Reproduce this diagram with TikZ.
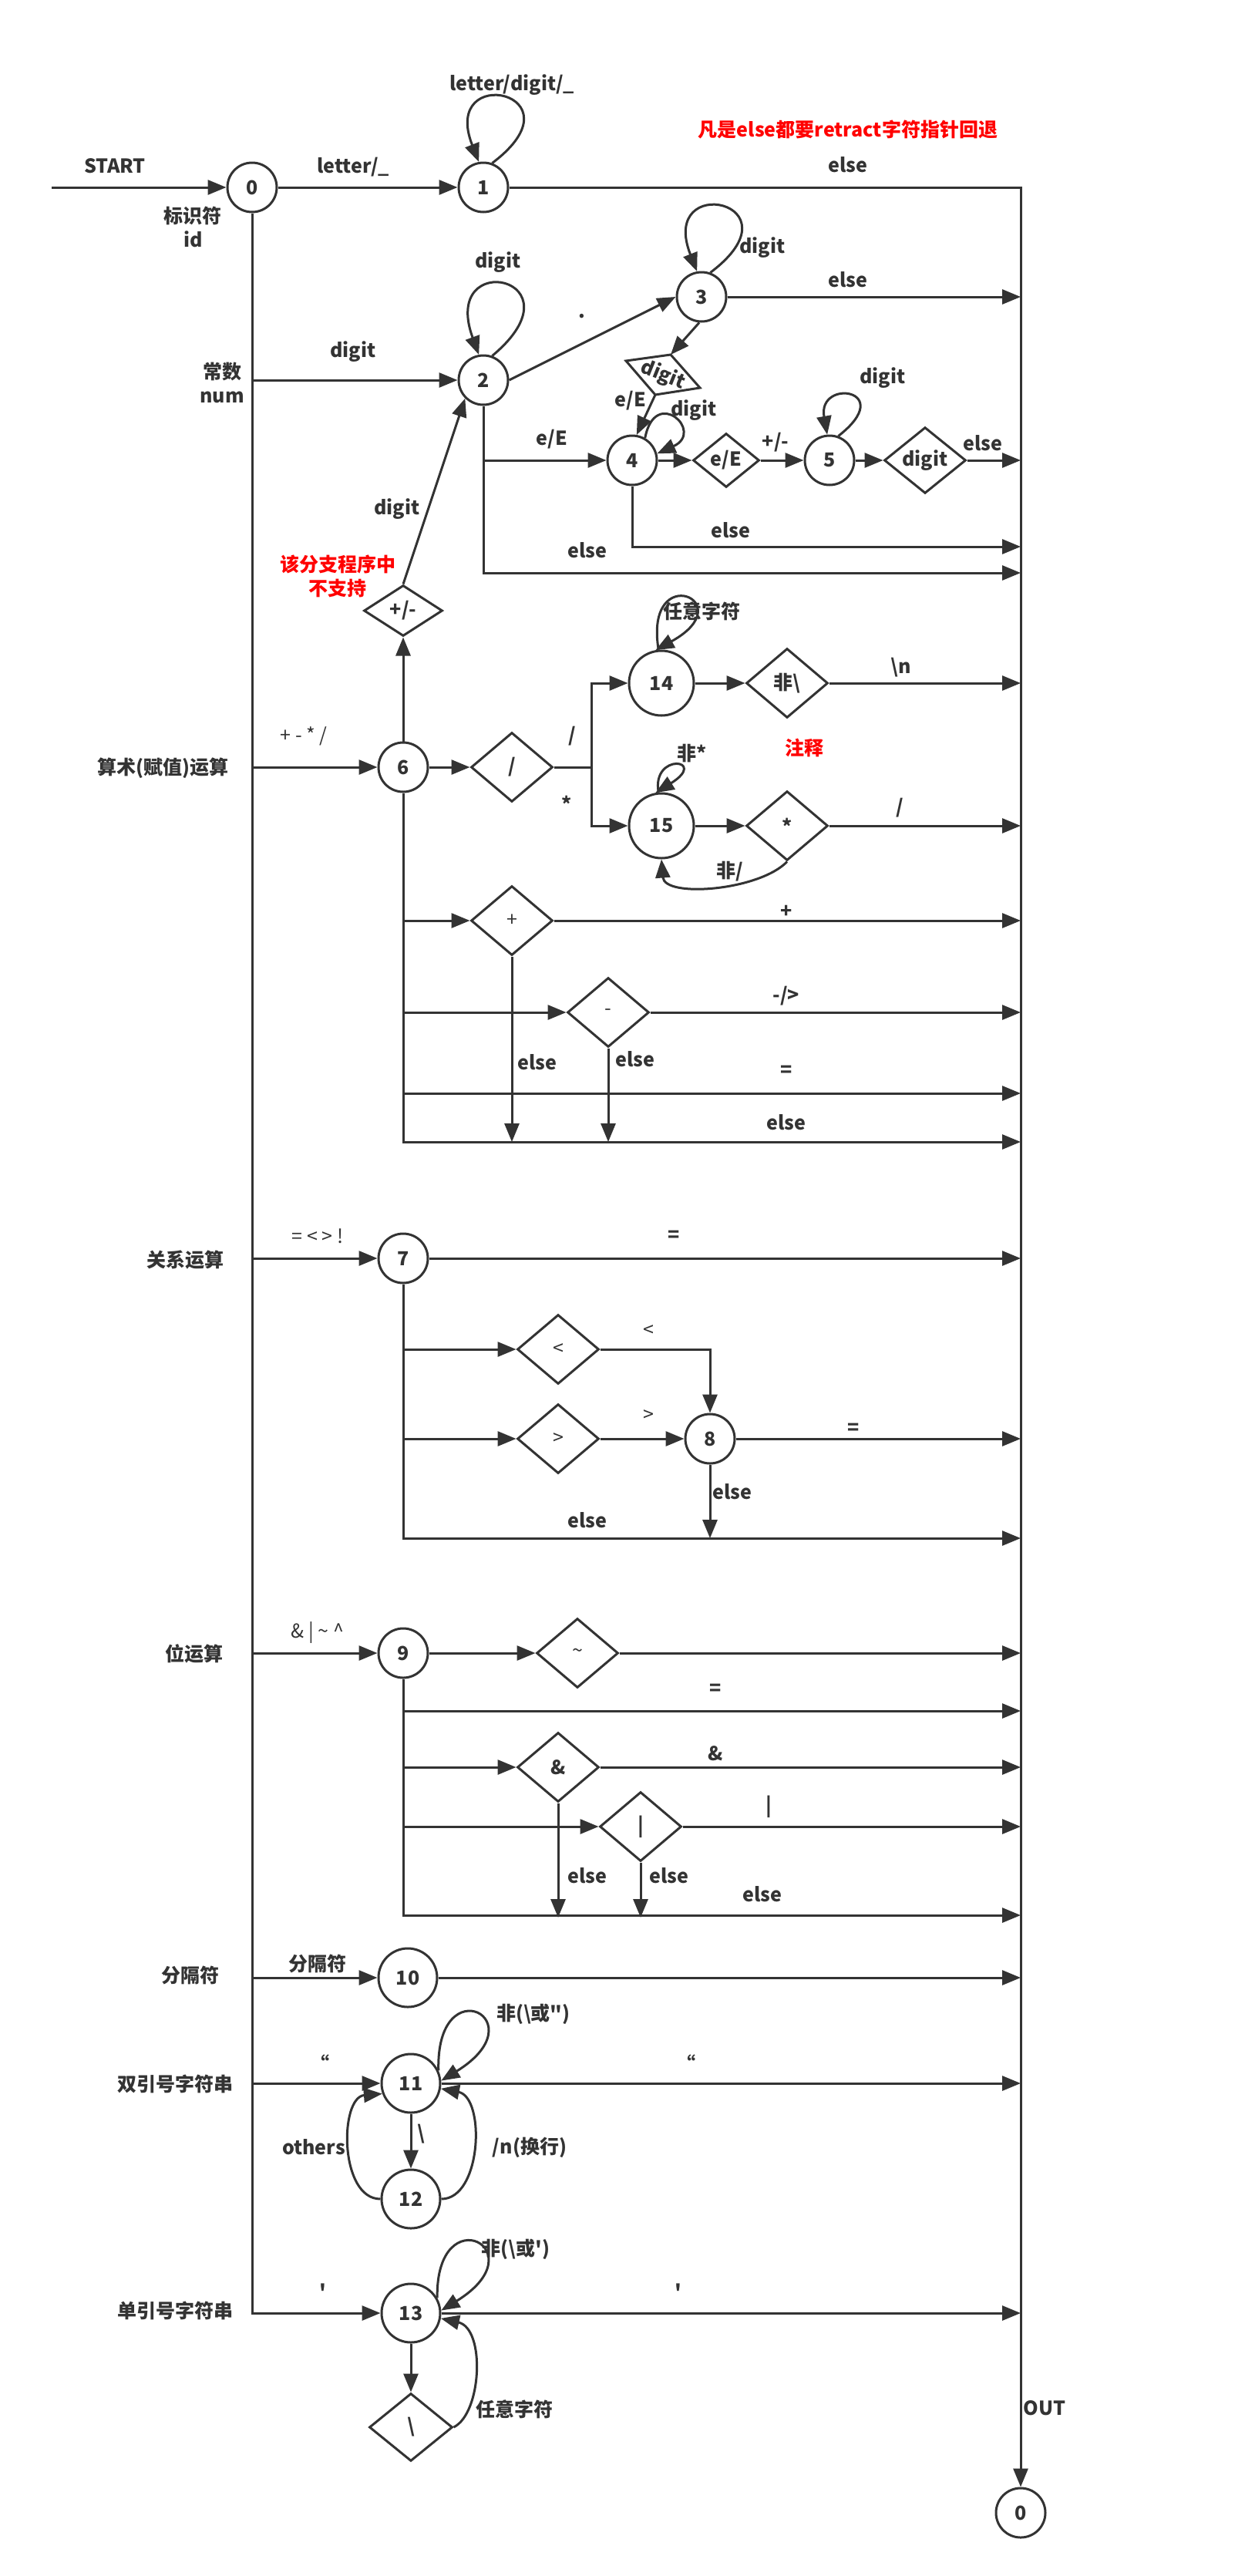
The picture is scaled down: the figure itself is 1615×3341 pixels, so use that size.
\documentclass[tikz,border=0pt]{standalone}
\usepackage{fontspec}
\setmainfont{Noto Sans CJK SC}
\usetikzlibrary{arrows.meta,shapes.geometric}
\definecolor{dc}{HTML}{333333}
\definecolor{rc}{HTML}{FF0000}
\newcommand\myfb{\fontsize{12.5pt}{15pt}\selectfont\bfseries}
\newcommand\myfr{\fontsize{12.5pt}{15pt}\selectfont}
\begin{document}
\begin{tikzpicture}[x=0.5pt,y=-0.5pt,
  st/.style={circle,draw=dc,line width=1.5pt,minimum size=32pt,inner sep=0pt,font=\myfb,text=dc},
  stl/.style={st,minimum size=42pt},
  stm/.style={st,minimum size=38pt},
  dia/.style={diamond,draw=dc,line width=1.5pt,minimum width=53pt,minimum height=45pt,inner sep=0pt,font=\myfb,text=dc},
  ln/.style={draw=dc,line width=1.5pt},
  arr/.style={ln,-{Triangle[length=12pt,width=9.5pt]}},
  lab/.style={font=\myfb,text=dc,inner sep=0pt},
  labr/.style={font=\myfr,text=dc,inner sep=0pt},
  redlab/.style={font=\myfb,text=rc,inner sep=0pt,align=center}]
\useasboundingbox (0,0) rectangle (1615,3341);
\fill[white] (0,0) rectangle (1615,3341);

% ---------- states ----------
\node[st] (n0) at (327,243) {0};
\node[st] (n1) at (627,243) {1};
\node[st] (n2) at (627,493) {2};
\node[st] (n3) at (910,385) {3};
\node[st] (n4) at (820,597) {4};
\node[st] (n5) at (1076,597) {5};
\node[dia,minimum width=43pt,minimum height=35pt] (dE) at (942,597) {e/E};
\node[dia,minimum width=53pt,minimum height=42pt] (dD) at (1200,597) {digit};
\node[st] (n6) at (523,995) {6};
\node[dia,minimum width=51pt,minimum height=33pt] (dpm) at (523,792) {+/-};
\node[dia] (dsl) at (664,995) {/};
\node[stl] (n14) at (858,886) {14};
\node[stl] (n15) at (858,1071) {15};
\node[dia] (dn) at (1021,886) {非\textbackslash};
\node[dia] (ds) at (1021,1071) {*};
\node[dia,font=\myfr] (dplus) at (664,1194) {+};
\node[dia,font=\myfr] (dminus) at (789,1313) {-};
\node[st] (n7) at (523,1632) {7};
\node[dia,font=\myfr] (dlt) at (724,1750) {<};
\node[dia,font=\myfr] (dgt) at (724,1866) {>};
\node[st] (n8) at (921,1866) {8};
\node[st] (n9) at (523,2144) {9};
\node[dia,font=\myfr] (dti) at (749,2144) {\textasciitilde};
\node[dia] (damp) at (724,2292) {\&};
\node[dia] (dbar) at (831,2369) {|};
\node[stm] (n10) at (529,2565) {10};
\node[stm] (n11) at (533,2702) {11};
\node[stm] (n12) at (533,2852) {12};
\node[stm] (n13) at (533,3000) {13};
\node[dia,minimum width=54pt,minimum height=44pt] (dbs) at (533,3148) {\textbackslash};
\node[st] (nout) at (1324,3259) {0};

% tilted box "digit"
\coordinate (bL) at (812,468);
\coordinate (bT) at (870,460);
\coordinate (bR) at (908,503);
\coordinate (bB) at (850,512);
\draw[ln] (bL) -- (bT) -- (bR) -- (bB) -- cycle;
\node[lab,rotate=-22] (bx) at (860,487) {digit};

% ---------- coordinates ----------
\coordinate (lS) at (67,243);
\coordinate (lN) at (327,493);
\coordinate (l6) at (327,995);
\coordinate (l7) at (327,1632);
\coordinate (l9) at (327,2144);
\coordinate (l10) at (327,2565);
\coordinate (l11) at (327,2702);
\coordinate (l13) at (327,3000);
\coordinate (rT) at (1324,243);
\coordinate (r3) at (1324,385);
\coordinate (rD) at (1324,597);
\coordinate (r4) at (1324,709);
\coordinate (r2) at (1324,743);
\coordinate (r14) at (1324,886);
\coordinate (r15) at (1324,1071);
\coordinate (rp) at (1324,1194);
\coordinate (rm) at (1324,1313);
\coordinate (rq6) at (1324,1418);
\coordinate (re6) at (1324,1481);
\coordinate (r7) at (1324,1632);
\coordinate (r8) at (1324,1866);
\coordinate (re7) at (1324,1995);
\coordinate (r9) at (1324,2144);
\coordinate (rq9) at (1324,2219);
\coordinate (ramp) at (1324,2292);
\coordinate (rbar) at (1324,2369);
\coordinate (re9) at (1324,2484);
\coordinate (r10) at (1324,2565);
\coordinate (r11) at (1324,2702);
\coordinate (r13) at (1324,3000);
\coordinate (c2a) at (627,597);
\coordinate (c2b) at (627,743);
\coordinate (c4b) at (820,709);
\coordinate (c6p) at (523,1194);
\coordinate (c6m) at (523,1313);
\coordinate (c6q) at (523,1418);
\coordinate (c6e) at (523,1481);
\coordinate (cpd) at (664,1481);
\coordinate (cmd) at (789,1481);
\coordinate (cs1) at (767,995);
\coordinate (cs14) at (767,886);
\coordinate (cs15) at (767,1071);
\coordinate (c7a) at (523,1750);
\coordinate (c7b) at (523,1866);
\coordinate (c7e) at (523,1995);
\coordinate (c8t) at (921,1750);
\coordinate (c8e) at (921,1995);
\coordinate (c9q) at (523,2219);
\coordinate (c9a) at (523,2292);
\coordinate (c9b) at (523,2369);
\coordinate (c9e) at (523,2484);
\coordinate (cad) at (724,2487);
\coordinate (cbd) at (831,2487);

% ---------- main trunks ----------
\draw[arr] (lS) -- (n0);
\draw[arr] (n0) -- (n1);
\draw[arr] (n0) -- (l13) -- (n13);
\draw[arr] (n1) -- (rT) -- (nout);

% identifier
\draw[arr] (n1.70) .. controls (760,120) and (570,80) .. (n1.100);

% numbers
\draw[arr] (lN) -- (n2);
\draw[arr] (n2.70) .. controls (760,360) and (570,320) .. (n2.100);
\draw[arr] (n2.east) -- (n3.west);
\draw[arr] (n3.70) .. controls (1043,262) and (853,222) .. (n3.100);
\draw[arr] (n3) -- (r3);
\draw[arr] (n3.265) -- (bT);
\draw[arr] (bB) -- (n4.80);
\draw[arr] (n4.60) .. controls (850,500) and (915,560) .. (n4.15);
\draw[arr] (n4) -- (dE);
\draw[arr] (dE) -- (n5);
\draw[arr] (n5.70) .. controls (1165,505) and (1060,490) .. (n5.95);
\draw[arr] (n5) -- (dD);
\draw[arr] (dD) -- (rD);
\draw[arr] (n2.south) -- (c2b) -- (r2);
\draw[arr] (c2a) -- (n4);
\draw[arr] (n4.south) -- (c4b) -- (r4);
\draw[arr] (dpm.north) -- (n2.225);

% arithmetic
\draw[arr] (l6) -- (n6);
\draw[arr] (n6) -- (dpm);
\draw[arr] (n6) -- (dsl);
\draw[ln] (dsl.east) -- (cs1);
\draw[arr] (cs1) -- (cs14) -- (n14);
\draw[arr] (cs1) -- (cs15) -- (n15);
\draw[arr] (n14.95) .. controls (835,725) and (965,780) .. (n14.100);
\draw[arr] (n14) -- (dn);
\draw[arr] (dn) -- (r14);
\draw[arr] (n15.95) .. controls (845,975) and (920,985) .. (n15.100);
\draw[arr] (n15) -- (ds);
\draw[arr] (ds) -- (r15);
\draw[arr] (ds.south) .. controls (985,1155) and (862,1165) .. (n15.south);
\draw[arr] (n6.south) -- (c6e) -- (re6);
\draw[arr] (c6p) -- (dplus);
\draw[arr] (dplus) -- (rp);
\draw[arr] (c6m) -- (dminus);
\draw[arr] (dminus) -- (rm);
\draw[arr] (c6q) -- (rq6);
\draw[arr] (dplus.south) -- (cpd);
\draw[arr] (dminus.south) -- (cmd);

% relational
\draw[arr] (l7) -- (n7);
\draw[arr] (n7) -- (r7);
\draw[arr] (n7.south) -- (c7e) -- (re7);
\draw[arr] (c7a) -- (dlt);
\draw[arr] (c7b) -- (dgt);
\draw[arr] (dlt.east) -- (c8t) -- (n8.north);
\draw[arr] (dgt) -- (n8);
\draw[arr] (n8) -- (r8);
\draw[arr] (n8.south) -- (c8e);

% bit operations
\draw[arr] (l9) -- (n9);
\draw[arr] (n9) -- (dti);
\draw[arr] (dti) -- (r9);
\draw[arr] (n9.south) -- (c9e) -- (re9);
\draw[arr] (c9q) -- (rq9);
\draw[arr] (c9a) -- (damp);
\draw[arr] (damp) -- (ramp);
\draw[arr] (c9b) -- (dbar);
\draw[arr] (dbar) -- (rbar);
\draw[arr] (damp.south) -- (cad);
\draw[arr] (dbar.south) -- (cbd);

% separators
\draw[arr] (l10) -- (n10);
\draw[arr] (n10) -- (r10);

% double-quoted strings
\draw[arr] (l11) -- (n11);
\draw[arr] (n11) -- (r11);
\draw[arr] (n11.25) .. controls (565,2550) and (700,2620) .. (n11.5);
\draw[arr] (n11) -- (n12);
\draw[arr] (n12.west) .. controls (440,2852) and (440,2720) .. (n11.200);
\draw[arr] (n12.east) .. controls (625,2852) and (630,2720) .. (n11.-10);

% single-quoted strings
\draw[arr] (n13) -- (r13);
\draw[arr] (n13.30) .. controls (565,2848) and (700,2918) .. (n13.5);
\draw[arr] (n13) -- (dbs);
\draw[arr] (dbs.east) .. controls (625,3130) and (630,3020) .. (n13.-10);

% ---------- labels ----------
\node[lab] (t1) at (149,215) {START};
\node[lab] (t2) at (458,217) {letter/\_};
\node[lab] (t3) at (250,280) {标识符};
\node[lab] (t4) at (251,310) {id};
\node[lab] (t5) at (664,110) {letter/digit/\_};
\node[redlab] (t6) at (1100,168) {凡是else都要retract字符指针回退};
\node[lab] (t7) at (1100,214) {else};
\node[lab] (t8) at (646,340) {digit};
\node[lab] (t9) at (989,321) {digit};
\node[lab] (t10) at (1100,363) {else};
\node[lab] (t11) at (755,410) {.};
\node[lab] (t12) at (288,482) {常数};
\node[lab] (t13) at (288,515) {num};
\node[lab] (t14) at (458,456) {digit};
\node[lab] (t15) at (818,520) {e/E};
\node[lab] (t16) at (900,532) {digit};
\node[lab] (t17) at (716,570) {e/E};
\node[lab] (t18) at (1006,574) {+/-};
\node[lab] (t19) at (1145,490) {digit};
\node[lab] (t20) at (1275,575) {else};
\node[lab] (t21) at (948,688) {else};
\node[lab] (t22) at (762,714) {else};
\node[lab] (t23) at (515,660) {digit};
\node[redlab] (t24) at (438,732) {该分支程序中};
\node[redlab] (t25) at (438,763) {不支持};
\node[lab] (t26) at (211,996) {算术(赋值)运算};
\node[labr] (t27) at (394,955) {+ - * /};
\node[lab] (t28) at (742,955) {/};
\node[lab] (t29) at (735,1042) {*};
\node[lab] (t30) at (910,793) {任意字符};
\node[lab] (t31) at (1169,866) {\textbackslash n};
\node[redlab] (t32) at (1043,970) {注释};
\node[lab] (t33) at (898,977) {非*};
\node[lab] (t34) at (1167,1048) {/};
\node[lab] (t35) at (947,1130) {非/};
\node[lab] (t36) at (1020,1182) {+};
\node[lab] (t37) at (1020,1292) {-/>};
\node[lab] (t38) at (697,1378) {else};
\node[lab] (t39) at (824,1374) {else};
\node[lab] (t40) at (1020,1389) {=};
\node[lab] (t41) at (1020,1456) {else};
\node[lab] (t42) at (240,1634) {关系运算};
\node[labr] (t43) at (412,1603) {= < > !};
\node[lab] (t44) at (874,1603) {=};
\node[labr] (t45) at (841,1726) {<};
\node[labr] (t46) at (841,1836) {>};
\node[lab] (t47) at (1107,1853) {=};
\node[lab] (t48) at (950,1935) {else};
\node[lab] (t49) at (762,1972) {else};
\node[lab] (t50) at (252,2145) {位运算};
\node[labr] (t51) at (412,2117) {\& | \textasciitilde{} \textasciicircum};
\node[lab] (t52) at (928,2191) {=};
\node[lab] (t53) at (928,2274) {\&};
\node[lab] (t54) at (997,2343) {|};
\node[lab] (t55) at (762,2433) {else};
\node[lab] (t56) at (868,2433) {else};
\node[lab] (t57) at (989,2457) {else};
\node[lab] (t58) at (247,2562) {分隔符};
\node[lab] (t59) at (412,2547) {分隔符};
\node[lab] (t60) at (227,2703) {双引号字符串};
\node[lab] (t61) at (415,2676) {“};
\node[lab] (t62) at (890,2676) {“};
\node[lab] (t63) at (692,2612) {非(\textbackslash 或\textquotedbl)};
\node[lab] (t64) at (546,2768) {\textbackslash};
\node[lab] (t65) at (407,2785) {others};
\node[lab] (t66) at (687,2785) {/n(换行)};
\node[lab] (t67) at (227,2997) {单引号字符串};
\node[lab] (t68) at (419,2972) {\textquotesingle};
\node[lab] (t69) at (880,2972) {\textquotesingle};
\node[lab] (t70) at (669,2917) {非(\textbackslash 或\textquotesingle)};
\node[lab] (t71) at (667,3125) {任意字符};
\node[lab] (t72) at (1355,3123) {OUT};
\end{tikzpicture}
\end{document}
